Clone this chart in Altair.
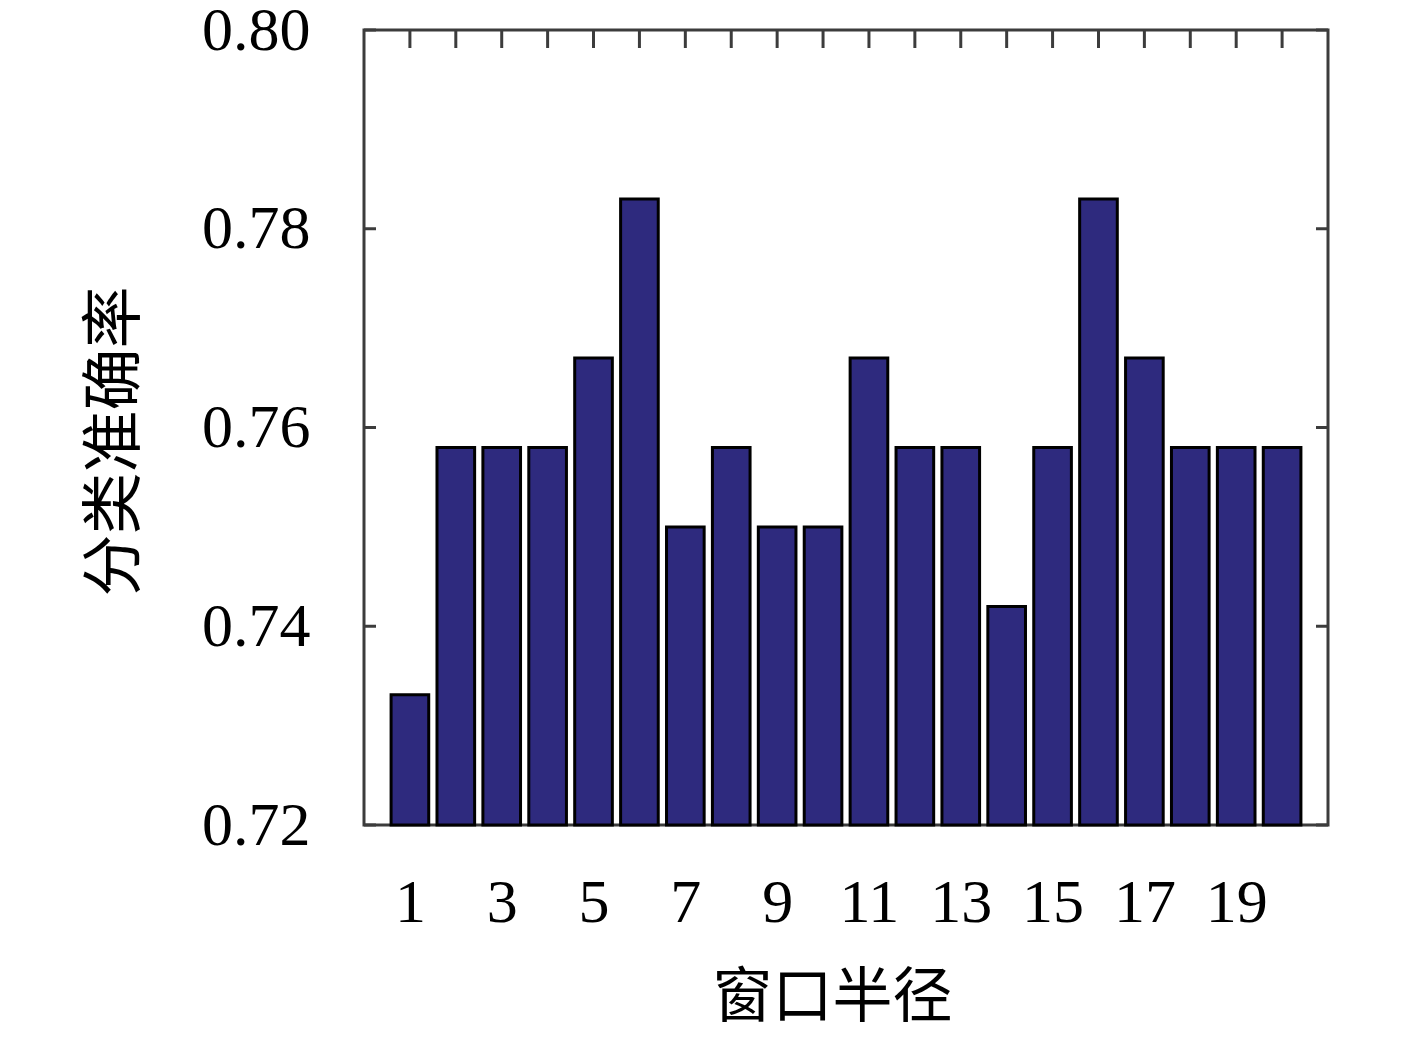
import altair as alt
import pandas as pd

radius = list(range(1, 21))
accuracy = [0.7331, 0.758, 0.758, 0.758, 0.767, 0.783, 0.750, 0.758, 0.750, 0.750,
            0.767, 0.758, 0.758, 0.742, 0.758, 0.783, 0.767, 0.758, 0.758, 0.758]
y_tick_values = [0.72, 0.74, 0.76, 0.78, 0.80]
x_label_values = [1, 3, 5, 7, 9, 11, 13, 15, 17, 19]
top_tick_values = list(range(1, 21))

W, H = 964, 795
BAR_COLOR = "#2e2a7e"
FRAME = "#3c3c3c"
NUM_FONT = "Liberation Serif"
CJK_FONT = "Noto Sans CJK SC"

x_scale = alt.Scale(domain=[0, 21], nice=False, zero=False)
y_scale = alt.Scale(domain=[0.72, 0.80], nice=False, zero=False)

df = pd.DataFrame({"r": radius, "acc": accuracy})

bars = alt.Chart(df).transform_calculate(
    lo="datum.r - 0.41", hi="datum.r + 0.41"
).mark_bar(color=BAR_COLOR, stroke="black", strokeWidth=3).encode(
    x=alt.X("lo:Q", scale=x_scale, title="窗口半径",
            axis=alt.Axis(values=x_label_values, format="d", ticks=False, domain=False,
                          grid=False, labelPadding=47, labelFlush=False,
                          labelFont=NUM_FONT, labelFontSize=62, labelColor="black",
                          titleFont=CJK_FONT, titleFontSize=60, titleFontWeight="normal",
                          titleColor="black", titleX=468, titleY=173,
                          titleBaseline="middle", titleAlign="center")),
    x2="hi:Q",
    y=alt.Y("acc:Q", scale=y_scale, title="分类准确率",
            axis=alt.Axis(values=y_tick_values, format=".2f", ticks=False, domain=False,
                          grid=False, labelPadding=54, labelFlush=False,
                          labelFont=NUM_FONT, labelFontSize=62, labelColor="black",
                          titleFont=CJK_FONT, titleFontSize=62, titleFontWeight="normal",
                          titleColor="black", titleX=-249, titleY=411, titleAngle=270,
                          titleBaseline="middle", titleAlign="center")),
    y2=alt.datum(0.72),
)

top_ticks = alt.Chart(pd.DataFrame({"t": top_tick_values})).mark_rule(
    color=FRAME, strokeWidth=3
).encode(
    x=alt.X("t:Q", scale=x_scale, axis=None),
    y=alt.value(0), y2=alt.value(18),
)

ydf = pd.DataFrame({"v": y_tick_values})
left_ticks = alt.Chart(ydf).mark_rule(color=FRAME, strokeWidth=3).encode(
    y=alt.Y("v:Q", scale=y_scale, axis=None),
    x=alt.value(0), x2=alt.value(12),
)
right_ticks = alt.Chart(ydf).mark_rule(color=FRAME, strokeWidth=3).encode(
    y=alt.Y("v:Q", scale=y_scale, axis=None),
    x=alt.value(W - 12), x2=alt.value(W),
)

chart = alt.layer(bars, top_ticks, left_ticks, right_ticks).resolve_axis(
    x="independent", y="independent"
).properties(
    width=W, height=H,
    autosize=alt.AutoSizeParams(type="none"),
    padding={"left": 356, "top": 22, "right": 60, "bottom": 209},
    background="white",
).configure_view(stroke=FRAME, strokeWidth=3)

chart.save("out.html", embed_options={"renderer": "svg", "actions": False})
